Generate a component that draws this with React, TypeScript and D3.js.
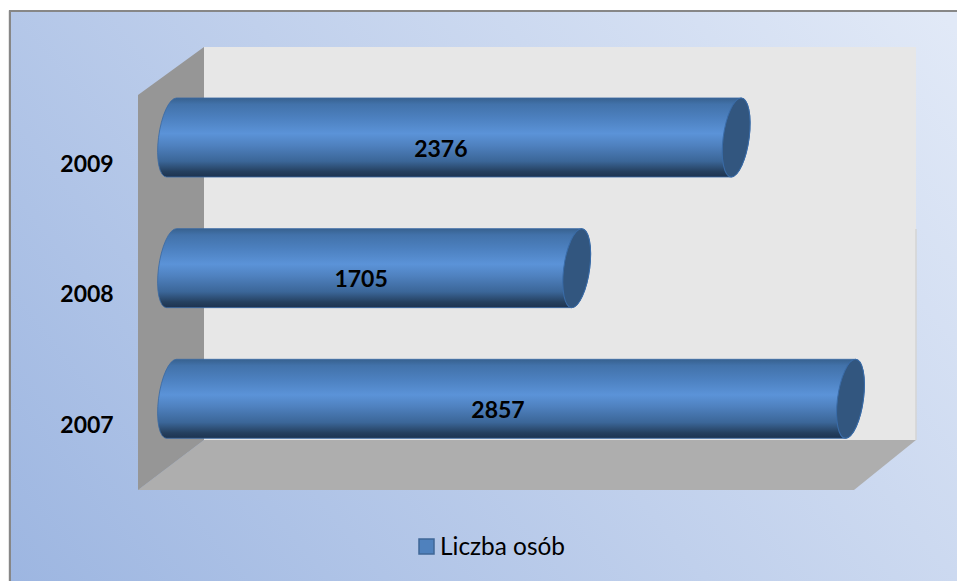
import React from "react";
import * as d3 from "d3";

const years = ["2009", "2008", "2007"];
const values = [2376, 1705, 2857];
const seriesName = "Liczba osób";

const W = 957, H = 581;
const x = d3.scaleLinear().domain([0, 2857]).range([171.5, 850.5]);
const y = d3.scalePoint<string>().domain(years).range([137.5, 398.8]);
const RX = 13, RY = 39.5, SHEAR = -0.125;

const polyLine = d3.line();

export default function App() {
  const wallL = 204, wallR = 916, wallT = 47, wallB = 440;
  const offX = 66, offY = 50;
  const font = "Lato, Carlito, 'Open Sans', sans-serif";
  return (
    <svg width={W} height={H} viewBox={`0 0 ${W} ${H}`} style={{ position: "absolute", left: 0, top: 0, display: "block" }}>
      <defs>
        <linearGradient id="bg" gradientUnits="userSpaceOnUse" x1="60" y1="640" x2="900" y2="-40">
          <stop offset="0" stopColor="#9db6e1" />
          <stop offset="0.5" stopColor="#c0d0ec" />
          <stop offset="1" stopColor="#e1e9f7" />
        </linearGradient>
        <linearGradient id="cyl" x1="0" y1="0" x2="0" y2="1">
          <stop offset="0" stopColor="#37618f" />
          <stop offset="0.08" stopColor="#4272aa" />
          <stop offset="0.25" stopColor="#4c80bf" />
          <stop offset="0.45" stopColor="#5b93d8" />
          <stop offset="0.6" stopColor="#4f81bf" />
          <stop offset="0.8" stopColor="#3b6698" />
          <stop offset="0.93" stopColor="#25405f" />
          <stop offset="1" stopColor="#1d3350" />
        </linearGradient>
      </defs>
      <rect x={0} y={0} width={W} height={H} fill="#ffffff" />
      <rect x={10} y={11} width={W} height={H} fill="url(#bg)" />
      <path d="M8.5 581V10.5" stroke="#e6e6e6" strokeWidth={1} fill="none" />
      <path d="M10 581V11H957" stroke="#878787" strokeWidth={2} fill="none" />

      {/* back wall */}
      <rect x={wallL} y={wallT} width={wallR - wallL} height={wallB - wallT} fill="#e7e7e7" />
      <path d={`M${wallR} 229V440`} stroke="#d4d4d4" strokeWidth={1.5} fill="none" />
      {/* floor */}
      <path d={polyLine([[wallL, wallB], [wallR, wallB], [wallR - offX + 4, wallB + offY], [wallL - offX, wallB + offY]]) + "Z"} fill="#aeaeae" />
      {/* side wall */}
      <path d={polyLine([[wallL - offX, 95], [wallL, wallT], [wallL, wallB], [wallL - offX, wallB + offY]]) + "Z"} fill="#969696" />

      {years.map((yr, i) => {
        const cx = x(values[i]);
        const cy = y(yr)!;
        const len = cx - x(0);
        const body = `M0 ${-RY}L${len} ${-RY}A${RX} ${RY} 0 0 1 ${len} ${RY}L0 ${RY}A${RX} ${RY} 0 0 1 0 ${-RY}Z`;
        return (
          <g key={yr}>
            <g transform={`matrix(1,0,${SHEAR},1,${x(0)},${cy})`}>
              <path d={body} fill="url(#cyl)" stroke="#3a6aa3" strokeWidth={0.8} />
              <ellipse cx={len} cy={0} rx={RX} ry={RY} fill="#32567f" stroke="#3a6ca8" strokeWidth={1} />
            </g>
            <text x={(x(0) + cx) / 2 - 13} y={cy + 19} textAnchor="middle" fontFamily={font} fontWeight={700} fontSize={23} fill="#000">{values[i]}</text>
            <text x={87} y={cy + 34} textAnchor="middle" fontFamily={font} fontWeight={700} fontSize={23} fill="#000">{yr}</text>
          </g>
        );
      })}

      {/* legend */}
      <rect x={419} y={539} width={15} height={15} fill="#4f81bd" stroke="#3f6797" strokeWidth={1.5} />
      <text x={440} y={555} fontFamily={font} fontSize={24.4} fill="#000">{seriesName}</text>
    </svg>
  );
}
